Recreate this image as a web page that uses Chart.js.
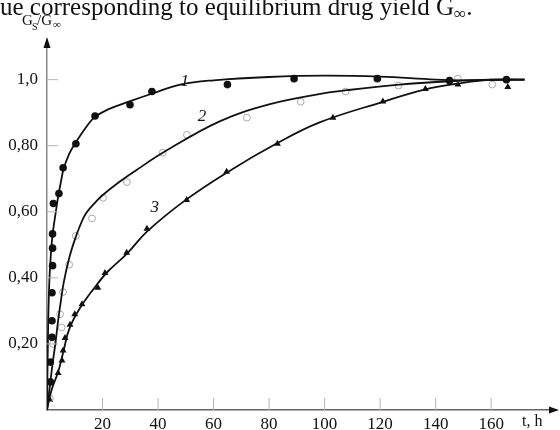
<!DOCTYPE html>
<html>
<head>
<meta charset="utf-8">
<script src="https://cdn.jsdelivr.net/npm/chart.js@4.4.1/dist/chart.umd.min.js"></script>
<style>
  html, body { margin: 0; padding: 0; background: #fff; }
  #wrap { width: 560px; height: 430px; position: relative; overflow: hidden; }
</style>
</head>
<body>
<div id="wrap"><canvas id="chart" width="560" height="430"></canvas></div>
<script>
// measured points, t in hours, value Gs/Ginf
const s1T = [1.2, 1.2, 1.8, 1.8, 1.8, 2, 2, 2, 2.3, 4.3, 5.8, 10.4, 17.3, 29.9, 37.8, 65, 89, 119, 145, 165.5];
const s1V = [0.085, 0.145, 0.22, 0.27, 0.355, 0.437, 0.49, 0.533, 0.625, 0.655, 0.733, 0.806, 0.89, 0.924, 0.964, 0.985, 1.003, 1.003, 0.997, 1.0];

const s2T = [1, 2.2, 5.3, 4.7, 5.8, 8, 10.4, 16.2, 20.2, 28.8, 41.7, 50.4, 72, 91.4, 107.6, 126.6, 148, 160.4];
const s2V = [0.035, 0.2, 0.25, 0.29, 0.357, 0.44, 0.527, 0.58, 0.642, 0.69, 0.779, 0.833, 0.885, 0.933, 0.964, 0.982, 1.003, 0.985];

const s3T = [1, 4, 5.4, 5.8, 6.5, 8.3, 10, 12.6, 18.3, 20.9, 28.7, 36, 50.3, 64.7, 83, 103, 121, 136.3, 148, 166];
const s3V = [0.03, 0.112, 0.15, 0.18, 0.218, 0.258, 0.29, 0.32, 0.37, 0.415, 0.476, 0.549, 0.636, 0.721, 0.806, 0.885, 0.934, 0.972, 0.985, 0.978];

// fitted curves
const c1T = [0, 0.4, 0.8, 1.3, 2, 3, 4, 5, 6, 8, 10, 14, 17, 22, 30, 38, 48, 60, 80, 100, 120, 140, 150, 172];
const c1V = [0, 0.25, 0.38, 0.46, 0.53, 0.59, 0.645, 0.69, 0.73, 0.775, 0.805, 0.855, 0.885, 0.91, 0.935, 0.958, 0.985, 0.998, 1.008, 1.012, 1.009, 1.0, 0.998, 1.0];

const c2T = [0, 1, 2, 3, 4, 5, 6, 8, 10, 12, 14, 17, 20, 26, 32, 42, 62, 80, 98, 108, 127, 145, 160, 172];
const c2V = [0, 0.07, 0.14, 0.2, 0.27, 0.33, 0.385, 0.46, 0.515, 0.56, 0.595, 0.625, 0.65, 0.69, 0.725, 0.78, 0.873, 0.925, 0.956, 0.968, 0.985, 0.995, 1.0, 1.0];

const c3T = [0, 1, 2, 4, 6, 8, 12, 18, 22, 29, 36, 50, 65, 83, 98, 121, 136, 148, 160, 172];
const c3V = [0, 0.04, 0.07, 0.115, 0.18, 0.245, 0.31, 0.38, 0.42, 0.475, 0.54, 0.636, 0.72, 0.808, 0.87, 0.933, 0.97, 0.988, 1.0, 1.0];

const xTicks = [20, 40, 60, 80, 100, 120, 140, 160];
const yTicks = [0.2, 0.4, 0.6, 0.8, 1.0];
const yTickLabels = ['0,20', '0,40', '0,60', '0,80', '1,0'];

const curveLabels = ['1', '2', '3'];
const curveLabelT = [49.6, 55.8, 38.8];
const curveLabelV = [0.994, 0.888, 0.612];

const SERIF = '"Liberation Serif", "Times New Roman", serif';

const pts = (ts, vs) => ts.map((t, i) => ({ x: t, y: vs[i] }));

const curve = (ts, vs) => ({
  data: pts(ts, vs),
  showLine: true,
  borderColor: '#111',
  borderWidth: 1.8,
  pointRadius: 0,
  tension: 0.4,
  fill: false,
});

const decor = {
  id: 'decor',
  afterDraw(chart) {
    const { ctx, chartArea: a, scales: { x, y } } = chart;
    ctx.save();

    // inner tick marks
    ctx.strokeStyle = '#b5b5b5';
    ctx.lineWidth = 1;
    xTicks.forEach(v => {
      const px = x.getPixelForValue(v);
      ctx.beginPath(); ctx.moveTo(px, a.bottom); ctx.lineTo(px, a.bottom - 12); ctx.stroke();
    });
    yTicks.forEach(v => {
      const py = y.getPixelForValue(v);
      ctx.beginPath(); ctx.moveTo(a.left, py); ctx.lineTo(a.left + 11, py); ctx.stroke();
    });

    // arrows
    ctx.fillStyle = '#111';
    ctx.beginPath();
    ctx.moveTo(a.left, a.top - 3); ctx.lineTo(a.left - 3.5, a.top + 8); ctx.lineTo(a.left + 3.5, a.top + 8);
    ctx.closePath(); ctx.fill();
    ctx.strokeStyle = '#666'; ctx.lineWidth = 1.5;
    ctx.beginPath(); ctx.moveTo(a.right, a.bottom); ctx.lineTo(a.right + 2, a.bottom); ctx.stroke();
    ctx.beginPath();
    ctx.moveTo(a.right + 4, a.bottom); ctx.lineTo(a.right - 6, a.bottom - 3.5); ctx.lineTo(a.right - 6, a.bottom + 3.5);
    ctx.closePath(); ctx.fill();

    // curve numbers
    ctx.font = 'italic 17px ' + SERIF;
    ctx.textAlign = 'center';
    ctx.textBaseline = 'middle';
    curveLabels.forEach((s, i) => {
      ctx.fillText(s, x.getPixelForValue(curveLabelT[i]), y.getPixelForValue(curveLabelV[i]));
    });

    // axis titles
    ctx.textBaseline = 'alphabetic';
    ctx.textAlign = 'left';
    ctx.font = '16px ' + SERIF;
    ctx.fillText('t, h', 522, 426);

    ctx.font = '15px ' + SERIF;
    ctx.fillText('G', 22, 25);
    ctx.font = '10px ' + SERIF;
    ctx.fillText('S', 32, 30);
    ctx.font = '15px ' + SERIF;
    ctx.fillText('/G', 37, 25);
    ctx.font = '11px ' + SERIF;
    ctx.fillText('\u221E', 53, 28);

    // caption fragment cut off at the top
    ctx.font = '25px ' + SERIF;
    ctx.fillText('ue corresponding to equilibrium drug yield G', 0, 15);
    const w = ctx.measureText('ue corresponding to equilibrium drug yield G').width;
    ctx.font = '17px ' + SERIF;
    ctx.fillText('\u221E', w, 19);
    const w2 = ctx.measureText('\u221E').width;
    ctx.font = '25px ' + SERIF;
    ctx.fillText('.', w + w2, 15);

    ctx.restore();
  },
};

new Chart(document.getElementById('chart'), {
  type: 'scatter',
  data: {
    datasets: [
      curve(c1T, c1V),
      curve(c2T, c2V),
      curve(c3T, c3V),
      {
        data: pts(s1T, s1V),
        pointStyle: 'circle',
        pointRadius: 3.8,
        backgroundColor: '#111',
        borderColor: '#111',
        borderWidth: 0,
      },
      {
        data: pts(s2T, s2V),
        pointStyle: 'circle',
        pointRadius: 3.4,
        backgroundColor: 'rgba(255,255,255,0)',
        borderColor: '#a8a8a8',
        borderWidth: 1,
      },
      {
        data: pts(s3T, s3V),
        pointStyle: 'triangle',
        pointRadius: 4,
        backgroundColor: '#111',
        borderColor: '#111',
        borderWidth: 0,
      },
    ],
  },
  options: {
    responsive: false,
    animation: false,
    layout: { padding: { top: 40, right: 4, left: 0, bottom: 0 } },
    scales: {
      x: {
        type: 'linear',
        min: 0,
        max: 183,
        afterBuildTicks: (s) => { s.ticks = xTicks.map(v => ({ value: v })); },
        afterFit: (s) => { s.height = 20; },
        grid: { display: false, drawTicks: false },
        border: { color: '#666', width: 1.5 },
        ticks: {
          color: '#111',
          padding: 4,
          font: { family: SERIF, size: 17 },
          maxRotation: 0,
        },
      },
      y: {
        min: 0,
        max: 1.12,
        afterBuildTicks: (s) => { s.ticks = yTicks.map(v => ({ value: v })); },
        afterFit: (s) => { s.width = 47; },
        grid: { display: false, drawTicks: false },
        border: { color: '#888', width: 1.5 },
        ticks: {
          color: '#111',
          padding: 9,
          font: { family: SERIF, size: 17 },
          callback: (v) => {
            const i = yTicks.findIndex(t => Math.abs(t - v) < 1e-6);
            return i >= 0 ? yTickLabels[i] : '';
          },
        },
      },
    },
    plugins: {
      legend: { display: false },
      tooltip: { enabled: false },
    },
  },
  plugins: [decor],
});
</script>
</body>
</html>
